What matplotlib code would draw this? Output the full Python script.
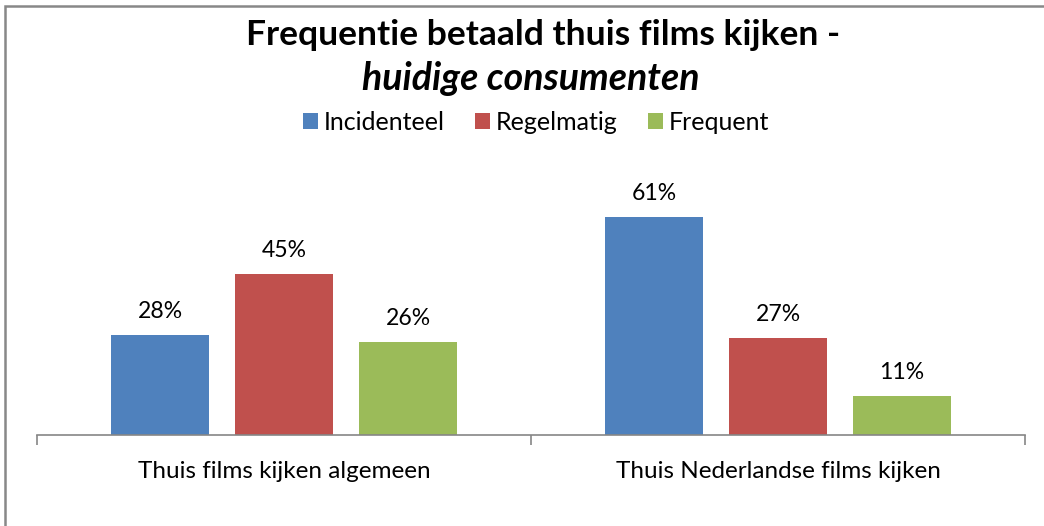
import numpy as np
import matplotlib.pyplot as plt
from matplotlib.patches import Rectangle

# data
categories = ['Thuis films kijken algemeen', 'Thuis Nederlandse films kijken']
series = ['Incidenteel', 'Regelmatig', 'Frequent']
values = {
    'Incidenteel': [28, 61],
    'Regelmatig': [45, 27],
    'Frequent': [26, 11],
}
colors = ['#4F81BD', '#C0504D', '#9BBB59']

plt.rcParams['font.family'] = ['Lato', 'DejaVu Sans']

W, H = 1044, 526
fig = plt.figure(figsize=(W / 100, H / 100), dpi=100)

# plot area in pixels: left 37, right 1025, top 170, bottom 435
ax_bottom, ax_top = 435, 170
ax = fig.add_axes([37 / W, 1 - ax_bottom / H, (1025 - 37) / W, (ax_bottom - ax_top) / H])

x = np.arange(len(categories))
width = 0.2
offsets = [-0.251, 0, 0.251]
for name, off, c in zip(series, offsets, colors):
    bars = ax.bar(x + off, values[name], width, color=c, label=name)
    for b, v in zip(bars, values[name]):
        ax.annotate(f'{v}%', (b.get_x() + b.get_width() / 2, v),
                    xytext=(0, 17), textcoords='offset pixels',
                    ha='center', va='baseline', fontsize=16.6)

ax.set_xlim(-0.5, 1.5)
ax.set_ylim(0, 74)
ax.set_yticks([])
for s in ['top', 'right', 'left']:
    ax.spines[s].set_visible(False)
ax.spines['bottom'].set_color('#868686')
ax.spines['bottom'].set_linewidth(1.2)
ax.set_xticks([-0.5, 0.5, 1.5])
ax.set_xticklabels([])
ax.tick_params(axis='x', direction='out', length=7, width=1.2, color='#868686')

# category labels, baseline at pixel row 478
label_y = -(478 - ax_bottom) / (ax_bottom - ax_top)
for xi, cat in zip(x, categories):
    ax.text(xi, label_y, cat, transform=ax.get_xaxis_transform(),
            ha='center', va='baseline', fontsize=17.5)

fig.text(543 / W, 1 - 45 / H, 'Frequentie betaald thuis films kijken -',
         ha='center', va='baseline', fontsize=25.5, fontweight='bold')
fig.text(531 / W, 1 - 90 / H, 'huidige consumenten',
         ha='center', va='baseline', fontsize=27, fontweight='bold', style='italic')

fig.legend(loc='center', bbox_to_anchor=(536 / W, 1 - 122 / H), ncol=3,
           frameon=False, fontsize=18, handlelength=0.6, handleheight=0.6,
           handletextpad=0.25, columnspacing=1.2, borderpad=0)

# chart border (only top and left visible in the reference)
fig.patches.append(Rectangle((5 / W, -0.05), 1.2, 1 - 5.5 / H + 0.05,
                             transform=fig.transFigure, fill=False,
                             edgecolor='#888888', linewidth=1.8))

fig.savefig('out.png', dpi=100, facecolor='white')
